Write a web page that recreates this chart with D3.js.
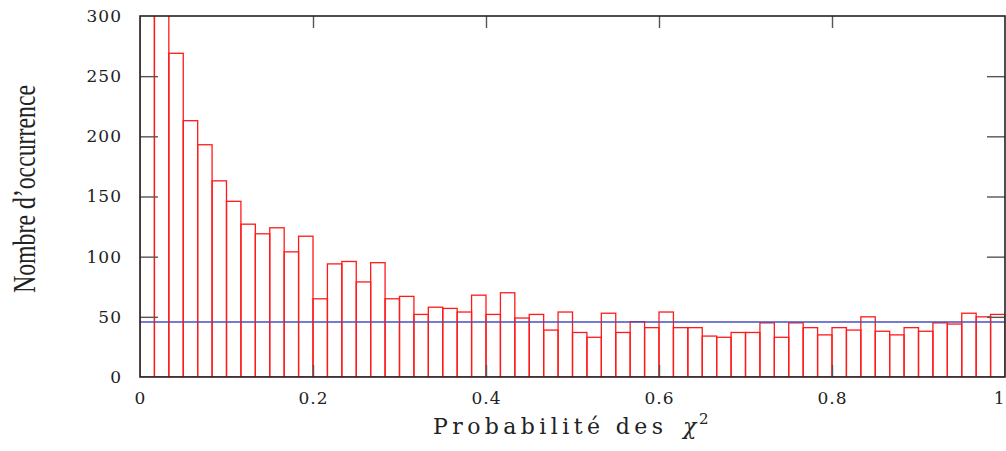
<!DOCTYPE html>
<html>
<head>
<meta charset="utf-8">
<script src="https://cdn.jsdelivr.net/npm/d3@7"></script>
<style>
  html, body { margin: 0; padding: 0; background: #fff; }
  svg { display: block; }
  .tick text { font-family: "DejaVu Serif", serif; font-size: 17px; letter-spacing: 1px; fill: #222; }
  .tick line { stroke: #555; stroke-width: 1.4; }
</style>
</head>
<body>
<svg id="chart" width="1006" height="451"></svg>
<script>
// Histogram of chi-square probabilities: 60 bins over [0, 1]
const binCount = 60;
const counts = [
  520, 340, 269, 213, 193, 163, 146, 127, 119, 124,
  104, 117, 65, 94, 96, 79, 95, 65, 67, 52,
  58, 57, 54, 68, 52, 70, 49, 52, 39, 54,
  37, 33, 53, 37, 46, 41, 54, 41, 41, 34,
  33, 37, 37, 45, 33, 45, 41, 35, 41, 39,
  50, 38, 35, 41, 38, 45, 44, 53, 50, 52
];
const flatLevel = 45.7;
const xTicks = [0, 0.2, 0.4, 0.6, 0.8, 1];
const xTickLabels = ["0", "0.2", "0.4", "0.6", "0.8", "1"];
const yTicks = [0, 50, 100, 150, 200, 250, 300];
const xTitle = "Probabilité des";
const yTitle = "Nombre d\u2019occurrence";

const plotLeft = 140, plotRight = 1005, plotTop = 16, plotBottom = 377;
const serif = "'DejaVu Serif', serif";
const condensedSerif = "'Liberation Serif', 'Times New Roman', serif";
const svg = d3.select("#chart");

const x = d3.scaleLinear().domain([0, 1]).range([plotLeft, plotRight]);
const y = d3.scaleLinear().domain([0, 300]).range([plotBottom, plotTop]);

svg.append("defs").append("clipPath").attr("id", "plotClip")
  .append("rect").attr("x", plotLeft).attr("y", plotTop)
  .attr("width", plotRight - plotLeft).attr("height", plotBottom - plotTop);

const bins = counts.map((c, i) => ({ x0: i / binCount, x1: (i + 1) / binCount, n: c }));

// Histogram bars (outline only)
svg.append("g").attr("clip-path", "url(#plotClip)")
  .selectAll("rect").data(bins).join("rect")
  .attr("x", d => x(d.x0))
  .attr("y", d => y(d.n))
  .attr("width", d => x(d.x1) - x(d.x0))
  .attr("height", d => y(0) - y(d.n))
  .attr("fill", "none")
  .attr("stroke", "#ff1a1a")
  .attr("stroke-width", 1.3);

// Horizontal reference level
svg.append("line")
  .attr("x1", x(0)).attr("x2", x(1))
  .attr("y1", y(flatLevel)).attr("y2", y(flatLevel))
  .attr("stroke", "#4a4fc0").attr("stroke-width", 1.3);

// Axes with inward ticks
const gl = svg.append("g").attr("transform", `translate(${plotLeft},0)`)
  .call(d3.axisLeft(y).tickValues(yTicks).tickSize(-18).tickPadding(18));
const gr = svg.append("g").attr("transform", `translate(${plotRight},0)`)
  .call(d3.axisRight(y).tickValues(yTicks).tickSize(-18).tickFormat(""));
const gb = svg.append("g").attr("transform", `translate(0,${plotBottom})`)
  .call(d3.axisBottom(x).tickValues(xTicks).tickSize(-12).tickPadding(15)
    .tickFormat((d, i) => xTickLabels[i]));
const gt = svg.append("g").attr("transform", `translate(0,${plotTop})`)
  .call(d3.axisTop(x).tickValues(xTicks).tickSize(-12).tickFormat(""));

[gl, gr, gb, gt].forEach(g => g.select(".domain").remove());
gl.selectAll(".tick").filter(d => d === 0 || d === 300).select("line").remove();
gr.selectAll(".tick").filter(d => d === 0 || d === 300).select("line").remove();
gb.selectAll(".tick").filter(d => d === 0 || d === 1).select("line").remove();
gt.selectAll(".tick").filter(d => d === 0 || d === 1).select("line").remove();
// keep the last label inside the page
gb.selectAll(".tick").filter(d => d === 1).select("text")
  .attr("text-anchor", "end").style("letter-spacing", "0px").attr("dx", -1);

// Frame
svg.append("rect")
  .attr("x", plotLeft).attr("y", plotTop)
  .attr("width", plotRight - plotLeft).attr("height", plotBottom - plotTop)
  .attr("fill", "none").attr("stroke", "#222").attr("stroke-width", 1.6);

// Axis titles
svg.append("text")
  .attr("x", 433).attr("y", 434)
  .attr("textLength", 230)
  .attr("lengthAdjust", "spacing")
  .style("font-family", serif)
  .style("font-size", "22px")
  .attr("fill", "#222")
  .text(xTitle);
svg.append("text")
  .attr("x", 683).attr("y", 434)
  .style("font-family", serif)
  .style("font-size", "22px")
  .style("font-style", "italic")
  .attr("fill", "#222")
  .text("\u03C7");
svg.append("text")
  .attr("x", 699).attr("y", 424)
  .style("font-family", serif)
  .style("font-size", "15px")
  .attr("fill", "#222")
  .text("2");

svg.append("text")
  .attr("transform", "translate(35,189) rotate(-90)")
  .attr("text-anchor", "middle")
  .attr("textLength", 208)
  .attr("lengthAdjust", "spacingAndGlyphs")
  .style("font-family", condensedSerif)
  .style("font-size", "32px")
  .attr("fill", "#222")
  .text(yTitle);
</script>
</body>
</html>
